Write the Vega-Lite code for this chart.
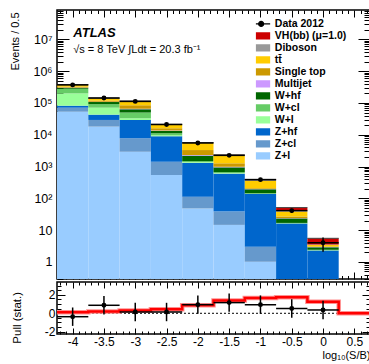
{
"$schema":"https://vega.github.io/schema/vega-lite/v6.json",
"padding":{"left":8,"top":8,"right":0,"bottom":0},
"spacing":-1,
"config":{
 "font":"Liberation Sans",
 "view":{"stroke":"black","strokeWidth":1.5},
 "axis":{"domain":false,"grid":false,"minExtent":0,"tickColor":"black","tickWidth":1,"labelColor":"black","labelFontSize":12,"labelOverlap":false,"labelFlush":false,"labelBound":false,"titleFontWeight":"normal","titleColor":"black"},
 "legend":{"padding":0}
},
"datasets":{
 "hist":[
  {"lo":-4.25,"hi":-3.75,"p":"Z+l","v":53000},{"lo":-4.25,"hi":-3.75,"p":"Z+cl","v":18000},{"lo":-4.25,"hi":-3.75,"p":"Z+hf","v":11000},{"lo":-4.25,"hi":-3.75,"p":"W+l","v":118000},{"lo":-4.25,"hi":-3.75,"p":"W+cl","v":80000},{"lo":-4.25,"hi":-3.75,"p":"W+hf","v":20000},{"lo":-4.25,"hi":-3.75,"p":"Multijet","v":5000},{"lo":-4.25,"hi":-3.75,"p":"Single top","v":20000},{"lo":-4.25,"hi":-3.75,"p":"tt̄","v":45000},{"lo":-4.25,"hi":-3.75,"p":"Diboson","v":8000},{"lo":-4.25,"hi":-3.75,"p":"VH(bb) (μ=1.0)","v":60},
  {"lo":-3.75,"hi":-3.25,"p":"Z+l","v":18000},{"lo":-3.75,"hi":-3.25,"p":"Z+cl","v":11200},{"lo":-3.75,"hi":-3.25,"p":"Z+hf","v":13700},{"lo":-3.75,"hi":-3.25,"p":"W+l","v":28200},{"lo":-3.75,"hi":-3.25,"p":"W+cl","v":20500},{"lo":-3.75,"hi":-3.25,"p":"W+hf","v":15400},{"lo":-3.75,"hi":-3.25,"p":"Multijet","v":2000},{"lo":-3.75,"hi":-3.25,"p":"Single top","v":9000},{"lo":-3.75,"hi":-3.25,"p":"tt̄","v":22000},{"lo":-3.75,"hi":-3.25,"p":"Diboson","v":3000},{"lo":-3.75,"hi":-3.25,"p":"VH(bb) (μ=1.0)","v":50},
  {"lo":-3.25,"hi":-2.75,"p":"Z+l","v":2940},{"lo":-3.25,"hi":-2.75,"p":"Z+cl","v":4800},{"lo":-3.25,"hi":-2.75,"p":"Z+hf","v":21500},{"lo":-3.25,"hi":-2.75,"p":"W+l","v":3600},{"lo":-3.25,"hi":-2.75,"p":"W+cl","v":17000},{"lo":-3.25,"hi":-2.75,"p":"W+hf","v":14000},{"lo":-3.25,"hi":-2.75,"p":"Multijet","v":2000},{"lo":-3.25,"hi":-2.75,"p":"Single top","v":19000},{"lo":-3.25,"hi":-2.75,"p":"tt̄","v":27500},{"lo":-3.25,"hi":-2.75,"p":"Diboson","v":2500},{"lo":-3.25,"hi":-2.75,"p":"VH(bb) (μ=1.0)","v":60},
  {"lo":-2.75,"hi":-2.25,"p":"Z+l","v":545},{"lo":-2.75,"hi":-2.25,"p":"Z+cl","v":880},{"lo":-2.75,"hi":-2.25,"p":"Z+hf","v":7500},{"lo":-2.75,"hi":-2.25,"p":"W+l","v":700},{"lo":-2.75,"hi":-2.25,"p":"W+cl","v":1500},{"lo":-2.75,"hi":-2.25,"p":"W+hf","v":2100},{"lo":-2.75,"hi":-2.25,"p":"Multijet","v":300},{"lo":-2.75,"hi":-2.25,"p":"Single top","v":2400},{"lo":-2.75,"hi":-2.25,"p":"tt̄","v":4900},{"lo":-2.75,"hi":-2.25,"p":"Diboson","v":400},{"lo":-2.75,"hi":-2.25,"p":"VH(bb) (μ=1.0)","v":40},
  {"lo":-2.25,"hi":-1.75,"p":"Z+l","v":48},{"lo":-2.25,"hi":-1.75,"p":"Z+cl","v":65},{"lo":-2.25,"hi":-1.75,"p":"Z+hf","v":1190},{"lo":-2.25,"hi":-1.75,"p":"W+l","v":70},{"lo":-2.25,"hi":-1.75,"p":"W+cl","v":110},{"lo":-2.25,"hi":-1.75,"p":"W+hf","v":720},{"lo":-2.25,"hi":-1.75,"p":"Multijet","v":100},{"lo":-2.25,"hi":-1.75,"p":"Single top","v":1000},{"lo":-2.25,"hi":-1.75,"p":"tt̄","v":2200},{"lo":-2.25,"hi":-1.75,"p":"Diboson","v":150},{"lo":-2.25,"hi":-1.75,"p":"VH(bb) (μ=1.0)","v":40},
  {"lo":-1.75,"hi":-1.25,"p":"Z+l","v":14.6},{"lo":-1.75,"hi":-1.25,"p":"Z+cl","v":23.6},{"lo":-1.75,"hi":-1.25,"p":"Z+hf","v":560},{"lo":-1.75,"hi":-1.25,"p":"W+l","v":20},{"lo":-1.75,"hi":-1.25,"p":"W+cl","v":50},{"lo":-1.75,"hi":-1.25,"p":"W+hf","v":276},{"lo":-1.75,"hi":-1.25,"p":"Multijet","v":40},{"lo":-1.75,"hi":-1.25,"p":"Single top","v":280},{"lo":-1.75,"hi":-1.25,"p":"tt̄","v":950},{"lo":-1.75,"hi":-1.25,"p":"Diboson","v":70},{"lo":-1.75,"hi":-1.25,"p":"VH(bb) (μ=1.0)","v":40},
  {"lo":-1.25,"hi":-0.75,"p":"Z+l","v":1.02},{"lo":-1.25,"hi":-0.75,"p":"Z+cl","v":2.0},{"lo":-1.25,"hi":-0.75,"p":"Z+hf","v":134},{"lo":-1.25,"hi":-0.75,"p":"W+l","v":2},{"lo":-1.25,"hi":-0.75,"p":"W+cl","v":5},{"lo":-1.25,"hi":-0.75,"p":"W+hf","v":48},{"lo":-1.25,"hi":-0.75,"p":"Multijet","v":3},{"lo":-1.25,"hi":-0.75,"p":"Single top","v":14},{"lo":-1.25,"hi":-0.75,"p":"tt̄","v":146},{"lo":-1.25,"hi":-0.75,"p":"Diboson","v":20},{"lo":-1.25,"hi":-0.75,"p":"VH(bb) (μ=1.0)","v":22},
  {"lo":-0.75,"hi":-0.25,"p":"Z+l","v":0.05},{"lo":-0.75,"hi":-0.25,"p":"Z+cl","v":0.1},{"lo":-0.75,"hi":-0.25,"p":"Z+hf","v":16},{"lo":-0.75,"hi":-0.25,"p":"W+l","v":0.2},{"lo":-0.75,"hi":-0.25,"p":"W+cl","v":0.5},{"lo":-0.75,"hi":-0.25,"p":"W+hf","v":6.5},{"lo":-0.75,"hi":-0.25,"p":"Multijet","v":0.5},{"lo":-0.75,"hi":-0.25,"p":"Single top","v":3},{"lo":-0.75,"hi":-0.25,"p":"tt̄","v":11.5},{"lo":-0.75,"hi":-0.25,"p":"Diboson","v":2.8},{"lo":-0.75,"hi":-0.25,"p":"VH(bb) (μ=1.0)","v":10},
  {"lo":-0.25,"hi":0.25,"p":"Z+l","v":0.01},{"lo":-0.25,"hi":0.25,"p":"Z+cl","v":0.02},{"lo":-0.25,"hi":0.25,"p":"Z+hf","v":2.27},{"lo":-0.25,"hi":0.25,"p":"W+l","v":0.03},{"lo":-0.25,"hi":0.25,"p":"W+cl","v":0.1},{"lo":-0.25,"hi":0.25,"p":"W+hf","v":0.45},{"lo":-0.25,"hi":0.25,"p":"Multijet","v":0.05},{"lo":-0.25,"hi":0.25,"p":"Single top","v":0.1},{"lo":-0.25,"hi":0.25,"p":"tt̄","v":0.4},{"lo":-0.25,"hi":0.25,"p":"Diboson","v":0.1},{"lo":-0.25,"hi":0.25,"p":"VH(bb) (μ=1.0)","v":2.0}
 ],
 "dat":[
  {"x":-4,"lo":-4.25,"hi":-3.75,"n":370000,"el":369400,"eh":370600},
  {"x":-3.5,"lo":-3.75,"hi":-3.25,"n":143000,"el":142620,"eh":143380},
  {"x":-3,"lo":-3.25,"hi":-2.75,"n":112000,"el":111670,"eh":112330},
  {"x":-2.5,"lo":-2.75,"hi":-2.25,"n":21000,"el":20855,"eh":21145},
  {"x":-2,"lo":-2.25,"hi":-1.75,"n":5500,"el":5426,"eh":5574},
  {"x":-1.5,"lo":-1.75,"hi":-1.25,"n":2250,"el":2203,"eh":2297},
  {"x":-1,"lo":-1.25,"hi":-0.75,"n":387,"el":367,"eh":407},
  {"x":-0.5,"lo":-0.75,"hi":-0.25,"n":41,"el":34.6,"eh":47.4},
  {"x":0,"lo":-0.25,"hi":0.25,"n":4,"el":2.1,"eh":5.9}
 ],
 "pull":[
  {"x":-4,"lo":-4.25,"hi":-3.75,"p":-0.37,"pl":-1.37,"ph":0.63},
  {"x":-3.5,"lo":-3.75,"hi":-3.25,"p":0.87,"pl":-0.13,"ph":1.87},
  {"x":-3,"lo":-3.25,"hi":-2.75,"p":0.14,"pl":-0.86,"ph":1.14},
  {"x":-2.5,"lo":-2.75,"hi":-2.25,"p":0.14,"pl":-0.86,"ph":1.14},
  {"x":-2,"lo":-2.25,"hi":-1.75,"p":0.94,"pl":-0.06,"ph":1.94},
  {"x":-1.5,"lo":-1.75,"hi":-1.25,"p":1.16,"pl":0.16,"ph":2.16},
  {"x":-1,"lo":-1.25,"hi":-0.75,"p":0.94,"pl":-0.06,"ph":1.94},
  {"x":-0.5,"lo":-0.75,"hi":-0.25,"p":0.52,"pl":-0.48,"ph":1.52},
  {"x":0,"lo":-0.25,"hi":0.25,"p":0.36,"pl":-0.64,"ph":1.36}
 ],
 "red":[
  {"e":-4.25,"r":0.1},{"e":-3.75,"r":0.2},{"e":-3.25,"r":0.3},{"e":-2.75,"r":0.43},{"e":-2.25,"r":0.87},{"e":-1.75,"r":1.38},{"e":-1.25,"r":1.67},{"e":-0.75,"r":1.75},{"e":-0.25,"r":1.26},{"e":0.25,"r":0},{"e":0.75,"r":0}
 ]
},
"resolve":{"legend":{"color":"independent"}},
"vconcat":[
 {
  "width":313,"height":269,
  "resolve":{"axis":{"x":"independent","y":"independent"}},
  "layer":[
   {
    "data":{"name":"hist"},
    "transform":[{"stack":"v","groupby":["lo"],"as":["y0","y1"]}],
    "mark":{"type":"rect","invalid":null},
    "encoding":{
     "x":{"field":"lo","type":"quantitative","scale":{"domain":[-4.25,0.75],"nice":false,"zero":false},"axis":{"orient":"bottom","values":[-4,-3.5,-3,-2.5,-2,-1.5,-1,-0.5,0,0.5],"labels":false,"tickSize":-7,"title":null}},
     "x2":{"field":"hi"},
     "y":{"field":"y1","type":"quantitative","scale":{"type":"log","domain":[0.29,84000000],"clamp":true,"nice":false},"axis":{"orient":"left","values":[1,10,100,1000,10000,100000,1000000,10000000],"ticks":false,"tickSize":0,"labelPadding":5,"labelFontSize":12.5,"labelExpr":"datum.value < 5 ? '1' : datum.value < 50 ? '10' : '10' + ['','','²','³','⁴','⁵','⁶','⁷'][round(log(datum.value)/LN10)]","title":"Events / 0.5","titleFontSize":11,"titleAngle":-90,"titleX":-41.5,"titleY":31,"titleAlign":"center","titleBaseline":"middle"}},
     "y2":{"field":"y0"},
     "color":{"field":"p","type":"nominal",
      "scale":{"domain":["Data 2012","VH(bb) (μ=1.0)","Diboson","tt̄","Single top","Multijet","W+hf","W+cl","W+l","Z+hf","Z+cl","Z+l"],
               "range":["#000000","#cc0000","#999999","#ffcc00","#cc9900","#cc99ff","#006600","#66cc66","#99ff99","#0066cc","#6699cc","#99ccff"]},
      "legend":{"orient":"none","legendX":198.9,"legendY":8.25,"title":null,"padding":0,"offset":0,"symbolSize":67,"clipHeight":11.3,"rowPadding":0,"labelFont":"Liberation Sans","labelFontSize":10.5,"labelFontWeight":"bold","labelColor":"black","labelOffset":8.4,"symbolOpacity":1,"symbolStrokeWidth":1.3,
       "encode":{"symbols":{"update":{
        "shape":{"signal":"datum.value === 'Data 2012' ? 'M-2.2,0L2.2,0M-0.6,0A0.6,0.6,0,1,1,0.6,0A0.6,0.6,0,1,1,-0.6,0Z' : 'M-2.2,-0.9H2.2V0.9H-2.2Z'"},
        "stroke":{"signal":"datum.value === 'Data 2012' ? 'black' : 'transparent'"}}}}}}
    }
   },
   {
    "data":{"name":"hist"},
    "transform":[{"aggregate":[{"op":"sum","field":"v","as":"tot"}],"groupby":["lo","hi"]}],
    "mark":{"type":"rule","color":"#444444","strokeWidth":1},
    "encoding":{
     "x":{"field":"lo","type":"quantitative","axis":null},
     "x2":{"field":"hi"},
     "y":{"field":"tot","type":"quantitative","axis":{"orient":"right","values":[0.3,0.4,0.5,0.6,0.7,0.8,0.9,2,3,4,5,6,7,8,9,20,30,40,50,60,70,80,90,200,300,400,500,600,700,800,900,2000,3000,4000,5000,6000,7000,8000,9000,20000,30000,40000,50000,60000,70000,80000,90000,200000,300000,400000,500000,600000,700000,800000,900000,2000000,3000000,4000000,5000000,6000000,7000000,8000000,9000000,20000000,30000000,40000000,50000000,60000000,70000000,80000000],"labels":false,"tickSize":-6,"title":null}}
    }
   },
   {
    "data":{"name":"dat"},
    "mark":{"type":"rule","color":"black","strokeWidth":1.5},
    "encoding":{
     "x":{"field":"lo","type":"quantitative","axis":{"orient":"bottom","values":[-4.2,-4.1,-3.9,-3.8,-3.7,-3.6,-3.4,-3.3,-3.2,-3.1,-2.9,-2.8,-2.7,-2.6,-2.4,-2.3,-2.2,-2.1,-1.9,-1.8,-1.7,-1.6,-1.4,-1.3,-1.2,-1.1,-0.9,-0.8,-0.7,-0.6,-0.4,-0.3,-0.2,-0.1,0.1,0.2,0.3,0.4,0.6,0.7],"labels":false,"tickSize":-3.5,"title":null}},
     "x2":{"field":"hi"},
     "y":{"field":"n","type":"quantitative","axis":{"orient":"left","values":[1,10,100,1000,10000,100000,1000000,10000000],"labels":false,"tickSize":-12,"title":null}}
    }
   },
   {
    "data":{"name":"dat"},
    "mark":{"type":"rule","color":"black","strokeWidth":1.5},
    "encoding":{
     "x":{"field":"x","type":"quantitative","axis":{"orient":"top","values":[-4,-3.5,-3,-2.5,-2,-1.5,-1,-0.5,0,0.5],"labels":false,"tickSize":-7,"title":null}},
     "y":{"field":"el","type":"quantitative","axis":{"orient":"left","values":[0.3,0.4,0.5,0.6,0.7,0.8,0.9,2,3,4,5,6,7,8,9,20,30,40,50,60,70,80,90,200,300,400,500,600,700,800,900,2000,3000,4000,5000,6000,7000,8000,9000,20000,30000,40000,50000,60000,70000,80000,90000,200000,300000,400000,500000,600000,700000,800000,900000,2000000,3000000,4000000,5000000,6000000,7000000,8000000,9000000,20000000,30000000,40000000,50000000,60000000,70000000,80000000],"labels":false,"tickSize":-6,"title":null}},
     "y2":{"field":"eh"}
    }
   },
   {
    "data":{"name":"dat"},
    "mark":{"type":"point","filled":true,"shape":"circle","size":24,"opacity":1},
    "encoding":{
     "x":{"field":"x","type":"quantitative","axis":{"orient":"top","values":[-4.2,-4.1,-3.9,-3.8,-3.7,-3.6,-3.4,-3.3,-3.2,-3.1,-2.9,-2.8,-2.7,-2.6,-2.4,-2.3,-2.2,-2.1,-1.9,-1.8,-1.7,-1.6,-1.4,-1.3,-1.2,-1.1,-0.9,-0.8,-0.7,-0.6,-0.4,-0.3,-0.2,-0.1,0.1,0.2,0.3,0.4,0.6,0.7],"labels":false,"tickSize":-3.5,"title":null}},
     "y":{"field":"n","type":"quantitative","axis":{"orient":"right","values":[1,10,100,1000,10000,100000,1000000,10000000],"labels":false,"tickSize":-12,"title":null}},
     "color":{"datum":"Data 2012"}
    }
   },
   {
    "data":{"values":[{}]},
    "mark":{"type":"text","text":"ATLAS","align":"left","baseline":"middle","font":"Liberation Sans","fontSize":13,"fontWeight":"bold","fontStyle":"italic","color":"black"},
    "encoding":{"x":{"datum":-3.99,"type":"quantitative","axis":null},"y":{"datum":16200000,"type":"quantitative","axis":null}}
   },
   {
    "data":{"values":[{}]},
    "mark":{"type":"text","text":"√s = 8 TeV  ∫Ldt = 20.3 fb⁻¹","align":"left","baseline":"middle","font":"Liberation Sans","fontSize":11,"color":"black"},
    "encoding":{"x":{"datum":-3.99,"type":"quantitative","axis":null},"y":{"datum":4640000,"type":"quantitative","axis":null}}
   }
  ]
 },
 {
  "width":313,"height":52,
  "resolve":{"axis":{"x":"independent","y":"independent"}},
  "layer":[
   {
    "data":{"values":[{}]},
    "mark":{"type":"rule","color":"black","strokeWidth":1,"strokeDash":[2,2]},
    "encoding":{"y":{"datum":0,"type":"quantitative","axis":null}}
   },
   {
    "data":{"name":"red"},
    "mark":{"type":"line","interpolate":"step-after","color":"#ff9090","strokeWidth":4.5},
    "encoding":{
     "x":{"field":"e","type":"quantitative","scale":{"domain":[-4.25,0.75],"nice":false,"zero":false},"axis":{"orient":"bottom","values":[-4,-3.5,-3,-2.5,-2,-1.5,-1,-0.5,0,0.5],"ticks":false,"tickSize":0,"labelPadding":2,"labelFontSize":12,"labelExpr":"'' + datum.value","title":"log₁₀(S/B)","titleFontSize":11,"titleX":313,"titleY":21,"titleAlign":"right","titleBaseline":"middle","titleAngle":0}},
     "y":{"field":"r","type":"quantitative","scale":{"domain":[-2.25,3.4],"nice":false,"zero":false},"axis":{"orient":"left","values":[-2,0,2],"ticks":false,"tickSize":0,"labelPadding":2,"labelFontSize":12,"labelExpr":"'' + datum.value","title":"Pull (stat.)","titleFontSize":11.5,"titleAngle":-90,"titleX":-39.5,"titleY":35.3,"titleAlign":"center","titleBaseline":"middle"}}
    }
   },
   {
    "data":{"name":"red"},
    "mark":{"type":"line","interpolate":"step-after","color":"#ff0000","strokeWidth":2.5},
    "encoding":{
     "x":{"field":"e","type":"quantitative","axis":{"orient":"bottom","values":[-4,-3.5,-3,-2.5,-2,-1.5,-1,-0.5,0,0.5],"labels":false,"tickSize":-6,"title":null}},
     "y":{"field":"r","type":"quantitative","axis":{"orient":"left","values":[-2,0,2],"labels":false,"tickSize":-8,"title":null}}
    }
   },
   {
    "data":{"name":"pull"},
    "mark":{"type":"rule","color":"black","strokeWidth":1.5},
    "encoding":{
     "x":{"field":"lo","type":"quantitative","axis":{"orient":"bottom","values":[-4.2,-4.1,-3.9,-3.8,-3.7,-3.6,-3.4,-3.3,-3.2,-3.1,-2.9,-2.8,-2.7,-2.6,-2.4,-2.3,-2.2,-2.1,-1.9,-1.8,-1.7,-1.6,-1.4,-1.3,-1.2,-1.1,-0.9,-0.8,-0.7,-0.6,-0.4,-0.3,-0.2,-0.1,0.1,0.2,0.3,0.4,0.6,0.7],"labels":false,"tickSize":-3,"title":null}},
     "x2":{"field":"hi"},
     "y":{"field":"p","type":"quantitative","axis":{"orient":"left","values":[-1.5,-1,-0.5,0.5,1,1.5,2.5,3],"labels":false,"tickSize":-4,"title":null}}
    }
   },
   {
    "data":{"name":"pull"},
    "mark":{"type":"rule","color":"black","strokeWidth":1.5},
    "encoding":{
     "x":{"field":"x","type":"quantitative","axis":{"orient":"top","values":[-4,-3.5,-3,-2.5,-2,-1.5,-1,-0.5,0,0.5],"labels":false,"tickSize":-6,"title":null}},
     "y":{"field":"pl","type":"quantitative","axis":{"orient":"right","values":[-2,0,2],"labels":false,"tickSize":-8,"title":null}},
     "y2":{"field":"ph"}
    }
   },
   {
    "data":{"name":"pull"},
    "mark":{"type":"point","filled":true,"shape":"circle","size":24,"opacity":1,"color":"black"},
    "encoding":{
     "x":{"field":"x","type":"quantitative","axis":{"orient":"top","values":[-4.2,-4.1,-3.9,-3.8,-3.7,-3.6,-3.4,-3.3,-3.2,-3.1,-2.9,-2.8,-2.7,-2.6,-2.4,-2.3,-2.2,-2.1,-1.9,-1.8,-1.7,-1.6,-1.4,-1.3,-1.2,-1.1,-0.9,-0.8,-0.7,-0.6,-0.4,-0.3,-0.2,-0.1,0.1,0.2,0.3,0.4,0.6,0.7],"labels":false,"tickSize":-3,"title":null}},
     "y":{"field":"p","type":"quantitative","axis":{"orient":"right","values":[-1.5,-1,-0.5,0.5,1,1.5,2.5,3],"labels":false,"tickSize":-4,"title":null}}
    }
   }
  ]
 }
]
}
